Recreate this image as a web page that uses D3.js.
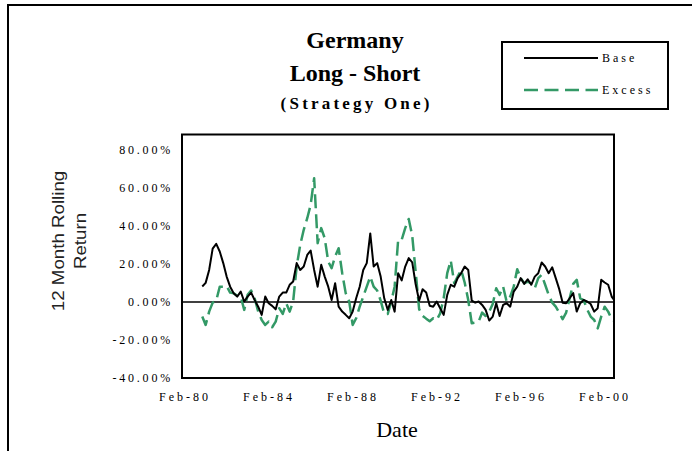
<!DOCTYPE html>
<html>
<head>
<meta charset="utf-8">
<script src="https://cdn.jsdelivr.net/npm/d3@7/dist/d3.min.js"></script>
<style>
  html, body { margin: 0; padding: 0; background: #fff; }
  svg { display: block; }
</style>
</head>
<body>
<svg id="chart" width="692" height="451"></svg>
<script>
// ---- Data (12 month rolling return, %, bi-monthly from Jan-1981) ----
const seriesStart = new Date(1981, 0, 1);
const stepMonths = 2;
const baseValues = [8.1,10,16.8,28,30.5,26.5,20.4,13.3,8,4.6,2.8,5.4,0.2,2.8,4.9,1,-2.5,-6.8,2.8,-0.7,-2.1,-3.9,2.8,4.9,4.9,9,10.7,20.4,16.8,18.6,24.7,27,16.8,8,19.5,13.3,8,1,9.8,-2.5,-5.1,-6.8,-8.6,-5.1,1.9,8,16.8,20.4,36,18.6,20.4,13.3,1.9,-4.2,1,-5.1,15.1,11.3,18.6,23,20.8,9.4,0.6,6.7,5,-2,-2.5,0.2,-3.3,-6.8,3.7,9,8,12.5,15.1,18.6,16.8,0.7,-0.4,0.2,-1.6,-4.2,-9.8,-7.7,-0.7,-7.4,-1.6,-0.7,-2.5,5.4,8,12.5,9.5,11.9,9,13.3,15.1,20.7,18.6,15.1,18.2,12.5,6.7,-0.4,-0.7,1.9,4.6,-5.1,-0.7,1,0.2,-1.1,-5.1,-3.3,11.6,10.2,9,2.8,0.2];
const excessValues = [-7.7,-12.1,-5.1,-0.4,0.7,8,8,8.4,4.9,4.6,3.2,2.8,-4.2,3.7,6,1.9,-5.1,-9.5,-12.1,-10.4,-13.3,-10.4,-3.3,-6.3,-0.7,-5.1,0.2,18.6,30,37.9,44,51,65,30.9,38.8,33.5,21.2,17.7,23.9,28.2,15.1,4.6,0.2,-12.1,-8.6,-2.5,2.8,8,13.3,8,6,0.7,-6.3,-6.3,0.2,8,32.6,32.6,38.8,43.6,34.8,16,-3.8,-7.3,-8.8,-10.2,-8.6,-9.5,-6,1.9,15.1,21.8,9.8,13.3,16.8,10.2,1,-11.2,-10.9,-10.4,-5.6,-7.4,-5.1,-1.1,7.2,3.7,8,0.2,2.8,8,17.2,12.5,9.8,10.7,9.8,7.2,12.5,14.2,9,3.7,-0.4,-2.5,-5.6,-9.1,-5.6,1.9,9.5,11.6,1.9,1,-3.9,-7.7,-9.5,-13.9,-7.7,-2.5,-5.1,-9.1,-10.4];
const seriesNames = ["Base", "Excess"];
const yTickValues = [-0.4, -0.2, 0, 0.2, 0.4, 0.6, 0.8];
const xTickYears = [1980, 1984, 1988, 1992, 1996, 2000];
const titleLines = ["Germany", "Long - Short", "(Strategy One)"];

const dates = baseValues.map((_, i) => d3.timeMonth.offset(seriesStart, i * stepMonths));
const baseData = baseValues.map((v, i) => ({ date: dates[i], value: v / 100 }));
const excessData = excessValues.map((v, i) => ({ date: dates[i], value: v / 100 }));

// ---- Layout ----
const svg = d3.select("#chart");
const plot = { left: 182, top: 134.5, right: 614, bottom: 378 };
const serif = "'Liberation Serif', 'Times New Roman', serif";
const sans = "'Liberation Sans', Arial, sans-serif";
const green = "#339966";

// outer frame
svg.append("rect").attr("x", 8).attr("y", 5).attr("width", 700).attr("height", 460)
  .attr("fill", "none").attr("stroke", "#000").attr("stroke-width", 2);

// scales
const x = d3.scaleTime()
  .domain([new Date(1980, 1, 1), new Date(2000, 1, 1)])
  .range([183, 603]);
const y = d3.scaleLinear().domain([-0.4, 0.88]).range([plot.bottom, plot.top]);

// clip
svg.append("clipPath").attr("id", "clip").append("rect")
  .attr("x", plot.left).attr("y", plot.top)
  .attr("width", plot.right - plot.left).attr("height", plot.bottom - plot.top);

// zero line
svg.append("line").attr("x1", plot.left).attr("x2", plot.right)
  .attr("y1", y(0)).attr("y2", y(0)).attr("stroke", "#000").attr("stroke-width", 1.5);

const line = d3.line().x(d => x(d.date)).y(d => y(d.value));

const g = svg.append("g").attr("clip-path", "url(#clip)");
g.append("path").datum(excessData).attr("d", line)
  .attr("fill", "none").attr("stroke", green).attr("stroke-width", 2.5)
  .attr("stroke-dasharray", "14,6").attr("stroke-linejoin", "round");
g.append("path").datum(baseData).attr("d", line)
  .attr("fill", "none").attr("stroke", "#000").attr("stroke-width", 2)
  .attr("stroke-linejoin", "round");

// plot border
svg.append("rect").attr("x", plot.left).attr("y", plot.top)
  .attr("width", plot.right - plot.left).attr("height", plot.bottom - plot.top)
  .attr("fill", "none").attr("stroke", "#000").attr("stroke-width", 2);

// y axis labels
const yAxis = d3.axisLeft(y).tickValues(yTickValues).tickSize(0).tickPadding(9)
  .tickFormat(d => (d * 100).toFixed(2) + "%");
const yg = svg.append("g").attr("transform", `translate(${plot.left},0)`).call(yAxis);
yg.select(".domain").remove();
yg.selectAll("text").attr("font-family", serif).attr("font-size", 12)
  .attr("letter-spacing", "2.8px").attr("fill", "#000");

// x axis labels
const xAxis = d3.axisBottom(x).tickValues(xTickYears.map(yr => new Date(yr, 1, 1)))
  .tickSize(0).tickPadding(14).tickFormat(d3.timeFormat("%b-%y"));
const xg = svg.append("g").attr("transform", `translate(0,${plot.bottom})`).call(xAxis);
xg.select(".domain").remove();
xg.selectAll("text").attr("font-family", serif).attr("font-size", 12)
  .attr("letter-spacing", "3px").attr("dx", "1.5").attr("fill", "#000");

// axis titles
svg.append("text").attr("x", 397).attr("y", 437).attr("text-anchor", "middle")
  .attr("font-family", serif).attr("font-size", 22).text("Date");

const yt = svg.append("g").attr("transform", "translate(0,241)");
yt.append("text").attr("transform", "translate(64,0) rotate(-90) scale(1.17,1)")
  .attr("text-anchor", "middle").attr("font-family", sans).attr("font-size", 16)
  .attr("fill", "#222").text("12 Month Rolling");
yt.append("text").attr("transform", "translate(86,0) rotate(-90) scale(1.17,1)")
  .attr("text-anchor", "middle").attr("font-family", sans).attr("font-size", 16)
  .attr("fill", "#222").text("Return");

// title
svg.append("text").attr("x", 355).attr("y", 48).attr("text-anchor", "middle")
  .attr("font-family", serif).attr("font-weight", "bold").attr("font-size", 24).text(titleLines[0]);
svg.append("text").attr("x", 355).attr("y", 81).attr("text-anchor", "middle")
  .attr("font-family", serif).attr("font-weight", "bold").attr("font-size", 24).text(titleLines[1]);
svg.append("text").attr("x", 355).attr("y", 109).attr("text-anchor", "middle")
  .attr("font-family", serif).attr("font-weight", "bold").attr("font-size", 17)
  .attr("letter-spacing", "3.2px").attr("dx", "1.6").text(titleLines[2]);

// legend
const lg = svg.append("g");
lg.append("rect").attr("x", 502).attr("y", 42).attr("width", 166).attr("height", 67)
  .attr("fill", "#fff").attr("stroke", "#000").attr("stroke-width", 2);
const legendItems = [
  { name: seriesNames[0], color: "#000", dash: null, width: 2, y: 58 },
  { name: seriesNames[1], color: green, dash: "14,6.5", width: 2.5, y: 90 }
];
legendItems.forEach(it => {
  lg.append("line").attr("x1", 524).attr("x2", 598).attr("y1", it.y).attr("y2", it.y)
    .attr("stroke", it.color).attr("stroke-width", it.width)
    .attr("stroke-dasharray", it.dash);
  lg.append("text").attr("x", 602).attr("y", it.y + 4).attr("font-family", serif)
    .attr("font-size", 12).attr("letter-spacing", "3px").text(it.name);
});
</script>
</body>
</html>
